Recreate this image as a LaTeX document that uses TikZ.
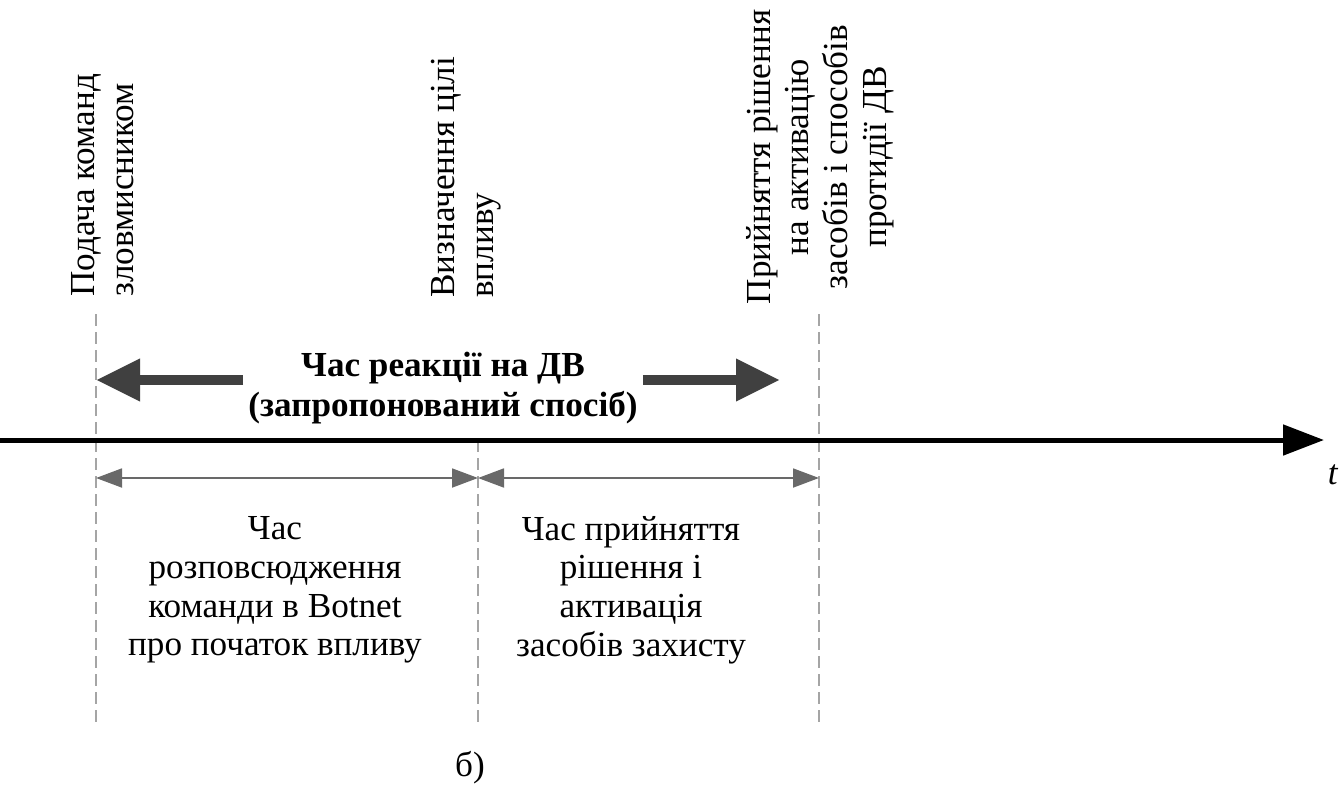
\documentclass[tikz,border=0pt]{standalone}
\usepackage{fontspec}
\setmainfont{LiberationSerif}[Extension=.ttf, UprightFont=*-Regular, BoldFont=*-Bold, ItalicFont=*-Italic, BoldItalicFont=*-BoldItalic]
\usetikzlibrary{arrows.meta}
\definecolor{mydarkgray}{RGB}{64,64,64}
\definecolor{mymidgray}{RGB}{105,105,105}
\definecolor{mylightgray}{RGB}{165,165,165}

\begin{document}
\begin{tikzpicture}[
	font=\fontsize{20}{22}\selectfont,
	markline/.style={line width=0.04cm, mylightgray, dash pattern=on 0.24cm off 0.12cm},
	span/.style={{Triangle[length=0.52cm, width=0.38cm]}-{Triangle[length=0.52cm, width=0.38cm]}, line width=1pt, mymidgray},
	bigarrow/.style={-{Triangle[length=0.88cm, width=0.8cm]}, line width=0.2cm, mydarkgray},
	vlabel/.style={rotate=90, inner sep=0pt}
]
	\useasboundingbox (0,0) rectangle (26.82,-15.78);

	% time axis and the three moments on it
	\coordinate (start) at (0,-8.8);
	\coordinate (end) at (26.48,-8.8);
	\coordinate (t0) at (1.92,-8.8);
	\coordinate (t1) at (9.56,-8.8);
	\coordinate (t2) at (16.38,-8.8);
	\coordinate (top) at (0,-6.28);
	\coordinate (bottom) at (0,-14.5);
	\coordinate (spany) at (0,-9.56);

	\draw[markline] (t0 |- top) -- (t0 |- bottom);
	\draw[markline] (t1) -- (t1 |- bottom);
	\draw[markline] (t2 |- top) -- (t2 |- bottom);

	\draw[line width=0.1cm, -{Triangle[length=0.82cm, width=0.6cm]}] (start) -- (end);
	\node (tlabel) at (26.66,-9.5) {\textit{t}};

	% events
	\node[vlabel, anchor=north west, align=left] (cmd) at (1.42,-5.94) {Подача команд\\зловмисником};
	\node[vlabel, anchor=north west, align=left] (target) at (8.62,-5.96) {Визначення цілі\\впливу};
	\node[vlabel, align=center] (decision) at (16.4,-3.14) {Прийняття рішення\\на активацію\\засобів і способів\\протидії ДВ};

	% reaction time
	\node[font=\fontsize{20}{23}\selectfont\bfseries, align=center, inner sep=0.1cm] (react) at (8.86,-7.76) {Час реакції на ДВ\\(запропонований спосіб)};
	\coordinate (ltip) at (1.92,-7.6);
	\coordinate (rtip) at (15.6,-7.6);
	\draw[bigarrow] (react.west |- ltip) -- (ltip);
	\draw[bigarrow] (react.east |- rtip) -- (rtip);

	% intervals
	\draw[span] (t0 |- spany) -- (t1 |- spany);
	\draw[span] (t1 |- spany) -- (t2 |- spany);
	\node[align=center] (spread) at (5.5,-11.8) {Час\\розповсюдження\\команди в Botnet\\про початок впливу};
	\node[align=center] (activate) at (12.62,-11.8) {Час прийняття\\рішення і\\активація\\засобів захисту};

	\node (caption) at (9.4,-15.36) {б)};
\end{tikzpicture}
\end{document}
